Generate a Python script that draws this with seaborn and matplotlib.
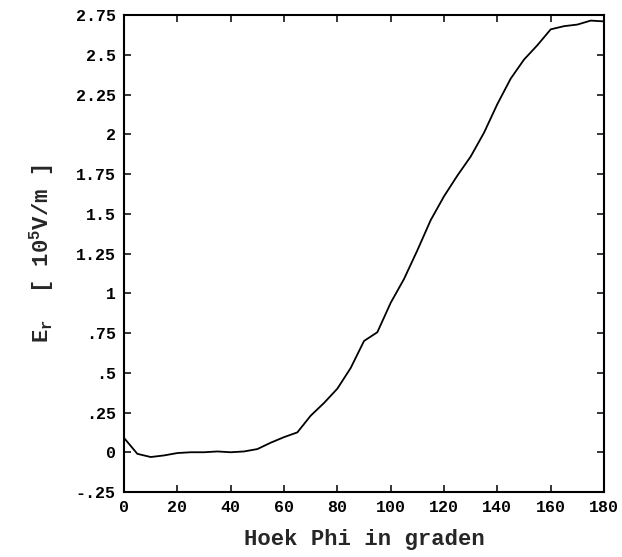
import numpy as np
import matplotlib.pyplot as plt
import pandas as pd
import seaborn as sns

# hoek (graden) en E_r waarden
phi = [0, 5, 10, 15, 20, 25, 30, 35, 40, 45, 50, 55, 60, 65, 70, 75, 80, 85,
       90, 95, 100, 105, 110, 115, 120, 125, 130, 135, 140, 145, 150, 155,
       160, 165, 170, 175, 180]
e_r = [0.09, -0.01, -0.03, -0.02, -0.005, 0.0, 0.0, 0.005, 0.0, 0.005, 0.02,
       0.06, 0.095, 0.125, 0.23, 0.31, 0.40, 0.53, 0.70, 0.755, 0.94, 1.09,
       1.27, 1.46, 1.61, 1.74, 1.86, 2.01, 2.19, 2.35, 2.47, 2.56, 2.66,
       2.68, 2.69, 2.715, 2.71]

y_ticks = [-0.25, 0, 0.25, 0.5, 0.75, 1, 1.25, 1.5, 1.75, 2, 2.25, 2.5, 2.75]
y_labels = ["-.25", "0", ".25", ".5", ".75", "1", "1.25", "1.5", "1.75",
            "2", "2.25", "2.5", "2.75"]
x_ticks = [0, 20, 40, 60, 80, 100, 120, 140, 160, 180]

df = pd.DataFrame({"phi": phi, "E_r": e_r})

sns.set_style("ticks")
plt.rcParams['font.family'] = ['Liberation Mono', 'DejaVu Sans Mono']
plt.rcParams['mathtext.default'] = 'regular'

fig = plt.figure(figsize=(6.22, 5.57), dpi=100)
ax = fig.add_axes([0.1994, 0.1167, 0.7717, 0.8563])

sns.lineplot(data=df, x="phi", y="E_r", color="black", linewidth=1.3, ax=ax)

ax.set_xlim(0, 180)
ax.set_ylim(-0.25, 2.75)
ax.set_xticks(x_ticks)
ax.set_yticks(y_ticks)
ax.set_yticklabels(y_labels)
ax.tick_params(direction="in", length=5, width=1.1, labelsize=12,
               top=True, right=True, labeltop=False, labelright=False,
               colors="black", pad=6)
for lab in ax.get_xticklabels() + ax.get_yticklabels():
    lab.set_fontweight("bold")
for s in ax.spines.values():
    s.set_linewidth(1.5)
    s.set_color("black")

ax.set_xlabel("Hoek Phi in graden", fontsize=16, fontweight="bold", labelpad=10)
ax.set_ylabel(r"E$_r$  [ 10$^5$V/m ]", fontsize=16, fontweight="bold", labelpad=14)

plt.savefig("out.png", dpi=100)
